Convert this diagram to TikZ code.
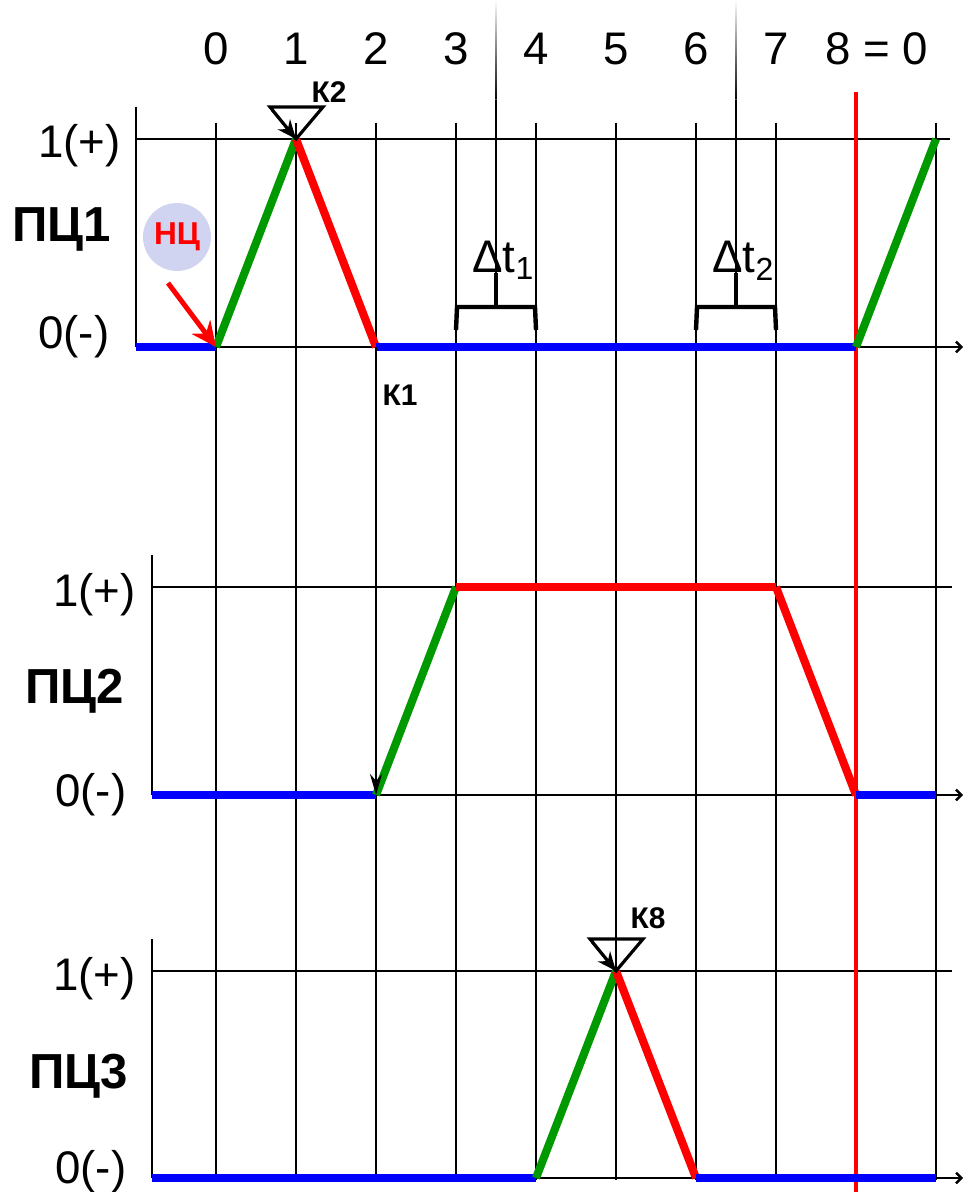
\documentclass[tikz,border=0pt]{standalone}
\usepackage{fontspec}
\setmainfont{Liberation Sans}
\usetikzlibrary{arrows.meta}
\definecolor{sgreen}{RGB}{0,153,0}
\definecolor{ncfill}{RGB}{208,212,240}

\begin{document}
\begin{tikzpicture}[x=0.02cm, y=-0.02cm,
    grid/.style={line width=1.4pt},
    axis/.style={line width=1.4pt, -{Straight Barb[length=3pt,width=6pt]}},
    low/.style={blue, line width=4.6pt},
    rise/.style={sgreen, line width=4.6pt},
    high/.style={red, line width=4.6pt},
    num/.style={font=\fontsize{26}{30}\selectfont, inner sep=0pt, anchor=base},
    lvl/.style={font=\fontsize{26}{30}\selectfont, inner sep=0pt, anchor=base west},
    pcname/.style={font=\fontsize{28}{32}\selectfont\bfseries, inner sep=0pt, anchor=base west},
    klabel/.style={font=\fontsize{17}{20}\selectfont\bfseries, inner sep=0pt},
    kmark/.style={line width=1.8pt, line join=miter},
    karrow/.style={line width=1.4pt, -{Stealth[length=0.38cm,width=0.32cm]}},
    brace/.style={line width=2.5pt},
    nc/.style={circle, fill=ncfill, minimum size=1.36cm, inner sep=0pt,
        text=red, font=\fontsize{18}{21}\selectfont\bfseries}
]
\useasboundingbox (0,0) rectangle (963,1192);

\foreach \p/\hy/\ly in {1/139/347,2/587/795,3/971/1178}
  \foreach \i in {0,...,9} {
    \coordinate (h\p\i) at (216+80*\i,\hy);
    \coordinate (l\p\i) at (216+80*\i,\ly);
  }

\foreach \x in {216,296,...,936}
  \draw[grid] (\x,123) -- (\x,1180);

\draw[grid] (136,107) -- (136,347);
\draw[grid] (136,139) -- (950,139);
\draw[axis] (136,347) -- (963,347);
\draw[grid] (152,555) -- (152,795);
\draw[grid] (152,587) -- (952,587);
\draw[axis] (152,795) -- (963,795);
\draw[grid] (152,939) -- (152,1178);
\draw[grid] (152,971) -- (952,971);
\draw[axis] (152,1178) -- (963,1178);

\foreach \x/\s in {216/0,296/1,376/2,456/3,536/4,616/5,696/6,776/7}
  \node[num] (t\s) at (\x,65) {\s};
\node[lvl] (t8) at (825,65) {8 = 0};

\node[pcname] (pc1) at (12,242) {ПЦ1};
\node[pcname] (pc2) at (25,703) {ПЦ2};
\node[pcname] (pc3) at (29,1088) {ПЦ3};
\node[lvl] (one1) at (38,158) {1(+)};
\node[lvl] (zero1) at (38,349) {0(-)};
\node[lvl] (one2) at (53,606) {1(+)};
\node[lvl] (zero2) at (55,806) {0(-)};
\node[lvl] (one3) at (53,990) {1(+)};
\node[lvl] (zero3) at (55,1183) {0(-)};

\foreach \x/\j in {496/1,736/2} {
  \shade[top color=white, bottom color=black] (\x-0.7,0) rectangle (\x+0.7,100);
  \draw[grid] (\x,100) -- (\x,307);
  \draw[brace] (\x,273) -- (\x,307);
  \draw[brace] (\x-40,330) -- (\x-39,307) -- (\x+39,307) -- (\x+40,330);
  \node[lvl] (dt\j) at (\x-24,273) {Δt\textsubscript{\j}};
}

\draw[red, line width=1.9pt] (856,92) -- (856,1192);

\draw[low] (136,347) -- (l10);
\draw[rise] (l10) -- (h11);
\draw[high] (h11) -- (l12);
\draw[low] (l12) -- (l18);
\draw[rise] (l18) -- (h19);

\draw[low] (152,795) -- (l22);
\draw[rise] (l22) -- (h23);
\draw[high] (h23) -- (h27);
\draw[high] (h27) -- (l28);
\draw[low] (l28) -- (l29);

\draw[low] (152,1178) -- (l34);
\draw[rise] (l34) -- (h35);
\draw[high] (h35) -- (l36);
\draw[low] (l36) -- (l39);

\node[nc] (nc) at (177,237) {НЦ};
\coordinate (ncs) at (168,283);
\draw[red, line width=2.8pt, -{Stealth[length=0.5cm,width=0.46cm]}] (ncs) -- (l10);

\draw[kmark] (270,107) -- (323,107) -- (h11) -- cycle;
\coordinate (k2s) at (272,110);
\draw[karrow] (k2s) -- (h11);
\node[klabel] (k2) at (329,92) {К2};

\draw[kmark] (590,939) -- (643,939) -- (h35) -- cycle;
\coordinate (k8s) at (592,942);
\draw[karrow] (k8s) -- (h35);
\node[klabel] (k8) at (648,918) {К8};

\draw[line width=1.4pt, -{Stealth[length=0.42cm,width=0.24cm]}] (l12) -- (l22);
\node[klabel] (k1) at (400,395) {К1};
\end{tikzpicture}
\end{document}
